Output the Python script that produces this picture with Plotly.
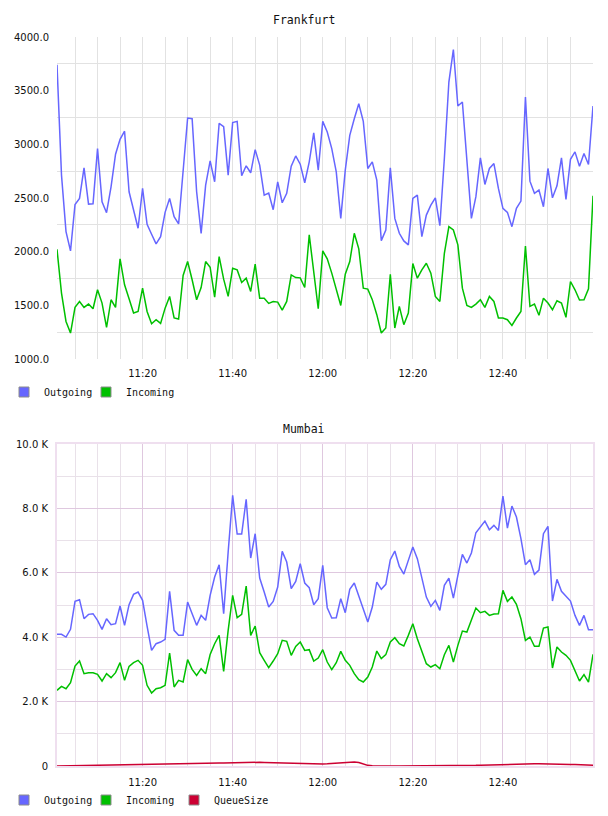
import pandas as pd
import plotly.graph_objects as go

times = pd.date_range("2024-01-01 11:01", periods=120, freq="min")
x_tick_times = ["2024-01-01 11:20", "2024-01-01 11:40", "2024-01-01 12:00",
                "2024-01-01 12:20", "2024-01-01 12:40"]

fra_out = [3741, 2713, 2187, 2007, 2440, 2496, 2781, 2443, 2446, 2960,
           2465, 2363, 2604, 2908, 3047, 3122, 2558, 2388, 2218, 2589,
           2255, 2162, 2072, 2140, 2366, 2496, 2326, 2258, 2744, 3245,
           3239, 2558, 2171, 2620, 2846, 2651, 3196, 3165, 2713, 3202,
           3214, 2707, 2800, 2735, 2951, 2806, 2527, 2546, 2391, 2651,
           2456, 2543, 2796, 2892, 2815, 2642, 2837, 3106, 2759, 3214,
           3115, 2960, 2744, 2310, 2759, 3084, 3239, 3378, 3214, 2775,
           2837, 2666, 2103, 2202, 2781, 2310, 2171, 2100, 2063, 2496,
           2527, 2140, 2341, 2434, 2502, 2242, 2868, 3580, 3883, 3357,
           3394, 2868, 2310, 2512, 2874, 2626, 2775, 2821, 2589, 2403,
           2366, 2233, 2403, 2471, 3440, 2657, 2543, 2574, 2419, 2775,
           2502, 2614, 2874, 2487, 2861, 2930, 2796, 2914, 2812, 3357]

fra_in = [2022, 1614, 1350, 1242, 1481, 1536, 1481, 1512, 1468, 1645,
          1521, 1295, 1552, 1481, 1933, 1691, 1561, 1428, 1443, 1660,
          1443, 1329, 1366, 1332, 1474, 1583, 1382, 1372, 1778, 1908,
          1738, 1552, 1666, 1908, 1855, 1577, 1954, 1744, 1583, 1846,
          1830, 1713, 1753, 1629, 1883, 1567, 1567, 1518, 1536, 1530,
          1456, 1536, 1784, 1759, 1756, 1666, 2156, 1815, 1468, 2007,
          1933, 1800, 1645, 1499, 1790, 1908, 2171, 2026, 1660, 1651,
          1552, 1413, 1242, 1289, 1790, 1289, 1490, 1320, 1428, 1889,
          1753, 1830, 1892, 1800, 1583, 1536, 1985, 2233, 2202, 2063,
          1660, 1499, 1481, 1512, 1552, 1481, 1583, 1536, 1382, 1382,
          1366, 1313, 1382, 1443, 2053, 1490, 1512, 1407, 1567, 1521,
          1459, 1543, 1521, 1388, 1722, 1645, 1549, 1552, 1654, 2521]

mum_out = [4088, 4088, 4005, 4244, 5113, 5165, 4575, 4709, 4730, 4523,
           4244, 4575, 4388, 4419, 4968, 4368, 5009, 5330, 5403, 5144,
           4347, 3591, 3798, 3850, 3933, 5423, 4212, 4057, 4057, 5092,
           4730, 4368, 4678, 4523, 5299, 5868, 6251, 4730, 6645, 8404,
           7204, 7204, 8280, 6458, 7214, 5837, 5403, 4937, 5113, 5558,
           6665, 6334, 5506, 5734, 6282, 5682, 5537, 5009, 5196, 6231,
           4916, 4595, 4606, 5196, 4761, 5486, 5682, 5299, 4885, 4471,
           4937, 5713, 5486, 5641, 6407, 6676, 6200, 5962, 6386, 6800,
           6438, 5837, 5247, 4958, 5144, 4833, 5610, 5837, 5216, 5920,
           6572, 6303, 6614, 7245, 7442, 7607, 7338, 7473, 7317, 8384,
           7390, 8073, 7731, 7059, 6251, 6407, 5951, 6086, 7214, 7442,
           5123, 5796, 5423, 5279, 5123, 4678, 4368, 4678, 4233, 4233]

mum_in = [2349, 2474, 2401, 2588, 3105, 3260, 2867, 2898, 2898, 2846,
          2639, 2867, 2743, 2898, 3209, 2660, 3095, 3209, 3281, 3126,
          2505, 2267, 2401, 2432, 2505, 3509, 2453, 2660, 2608, 3302,
          3002, 2815, 3022, 2867, 3467, 3798, 4057, 2939, 4212, 5299,
          4606, 4709, 5589, 4057, 4347, 3519, 3281, 3053, 3260, 3488,
          3902, 3871, 3436, 3716, 3850, 3591, 3612, 3260, 3353, 3612,
          3229, 2991, 3209, 3560, 3281, 3126, 2867, 2681, 2608, 2763,
          3074, 3571, 3333, 3457, 3850, 3985, 3798, 3726, 4057, 4419,
          3954, 3591, 3177, 3074, 3146, 3022, 3457, 3747, 3229, 3747,
          4192, 4161, 4523, 4906, 4761, 4802, 4678, 4720, 4730, 5454,
          5113, 5247, 5020, 4575, 3902, 4005, 3716, 3716, 4285, 4316,
          3043, 3695, 3540, 3436, 3281, 2970, 2639, 2836, 2608, 3467]

mum_queue = [0, 2, 5, 8, 10, 12, 15, 18, 20, 22,
             25, 28, 30, 33, 35, 38, 40, 42, 45, 48,
             50, 52, 55, 58, 60, 62, 65, 68, 70, 72,
             75, 78, 80, 82, 85, 88, 90, 95, 100, 105,
             110, 115, 118, 120, 118, 115, 110, 105, 100, 95,
             90, 85, 80, 75, 70, 65, 60, 60, 62, 65,
             70, 80, 90, 100, 110, 120, 125, 110, 60, 20,
             5, 0, 0, 0, 0, 0, 0, 0, 0, 0,
             0, 0, 0, 0, 0, 0, 0, 0, 0, 0,
             5, 10, 15, 20, 25, 30, 35, 38, 40, 42,
             45, 50, 55, 60, 62, 65, 68, 70, 70, 68,
             65, 62, 60, 55, 50, 45, 40, 35, 30, 25]

fra_ticks = [1000, 1500, 2000, 2500, 3000, 3500, 4000]
fra_minor = [1250, 1750, 2250, 2750, 3250, 3750]
mum_ticks = [0, 2000, 4000, 6000, 8000, 10000]
mum_ticktext = ["0", "2.0 K", "4.0 K", "6.0 K", "8.0 K", "10.0 K"]
mum_minor = [1000, 3000, 5000, 7000, 9000]

C_OUT = "#6666ff"
C_IN = "#00c000"
C_Q = "#cc0033"

fig = go.Figure()

def line(x, y, c, xa, ya):
    fig.add_trace(go.Scatter(x=x, y=y, mode="lines", line=dict(color=c, width=1.5),
                             showlegend=False, xaxis=xa, yaxis=ya, hoverinfo="skip"))

def leg(name, c, xa, ya, lg):
    fig.add_trace(go.Scatter(x=[None], y=[None], mode="markers", name=name,
                             marker=dict(symbol="square", size=10, color=c,
                                         line=dict(color="#8c8c8c", width=1)),
                             xaxis=xa, yaxis=ya, legend=lg, showlegend=True))

line(times, fra_out, C_OUT, "x", "y")
line(times, fra_in, C_IN, "x", "y")
line(times, mum_out, C_OUT, "x2", "y2")
line(times, mum_in, C_IN, "x2", "y2")
line(times, mum_queue, C_Q, "x2", "y2")
leg("Outgoing", C_OUT, "x", "y", "legend")
leg("Incoming", C_IN, "x", "y", "legend2")
leg("Outgoing", C_OUT, "x2", "y2", "legend3")
leg("Incoming", C_IN, "x2", "y2", "legend4")
leg("QueueSize", C_Q, "x2", "y2", "legend5")

W, H = 608, 816
xdom = [57 / W, 593 / W]
tick_font = dict(family="DejaVu Sans", size=10, color="#111")
rng = ["2024-01-01 11:01", "2024-01-01 13:00"]
MIN = 60 * 1000

def xaxis(major_col, minor_col, anchor, tlen, line=False):
    d = dict(domain=xdom, range=rng, type="date", anchor=anchor,
             tickformat="%H:%M", tickmode="array", tickvals=x_tick_times,
             showgrid=True, gridcolor=major_col, gridwidth=1,
             minor=dict(tick0="2024-01-01 11:00", dtick=5 * MIN, showgrid=True,
                        gridcolor=minor_col, gridwidth=1),
             zeroline=False, ticks="outside", ticklen=tlen, tickcolor="rgba(0,0,0,0)",
             tickfont=tick_font, fixedrange=True, automargin=False)
    if line:
        d.update(showline=True, mirror=True, linecolor="#efdfef", linewidth=2)
    else:
        d.update(showline=False)
    return d

leg_font = dict(family="DejaVu Sans Mono", size=10, color="#111")

def legend(px, py):
    return dict(orientation="h", x=px / W, xanchor="left", y=(H - py) / H, yanchor="middle",
                font=leg_font, itemwidth=30, tracegroupgap=0, bgcolor="rgba(0,0,0,0)")

fig.update_layout(
    width=W, height=H, margin=dict(l=0, r=0, t=0, b=0, autoexpand=False),
    paper_bgcolor="white", plot_bgcolor="white",
    xaxis=xaxis("#e2e2e2", "#e2e2e2", "y", 5),
    yaxis=dict(domain=[(H - 359) / H, (H - 37) / H], range=[1000, 4000], anchor="x",
               tickvals=fra_ticks, tickformat=".1f", showgrid=False,
               minor=dict(tickvals=fra_minor, showgrid=True, gridcolor="#e2e2e2", gridwidth=1),
               zeroline=False, showline=False, ticks="outside", ticklen=5,
               tickcolor="rgba(0,0,0,0)", tickfont=tick_font, fixedrange=True,
               automargin=False),
    xaxis2=xaxis("#dfc8df", "#e9e1e9", "y2", 6, line=True),
    yaxis2=dict(domain=[(H - 766) / H, (H - 444) / H], range=[0, 10000], anchor="x2",
                tickvals=mum_ticks, ticktext=mum_ticktext, showgrid=True,
                gridcolor="#dfc8df", gridwidth=1,
                minor=dict(tickvals=mum_minor, showgrid=True, gridcolor="#e9e1e9", gridwidth=1),
                zeroline=False, showline=True, mirror=True, linecolor="#efdfef", linewidth=2,
                ticks="outside", ticklen=5, tickcolor="rgba(0,0,0,0)",
                tickfont=tick_font, fixedrange=True, automargin=False),
    legend=legend(4, 392),
    legend2=legend(86, 392),
    legend3=legend(4, 800),
    legend4=legend(86, 800),
    legend5=legend(174, 800),
    annotations=[
        dict(text="Frankfurt", x=0.5, y=(H - 20) / H, xref="paper", yref="paper",
             xanchor="center", yanchor="middle", showarrow=False,
             font=dict(family="DejaVu Sans Mono", size=11.5, color="#111")),
        dict(text="Mumbai", x=0.5, y=(H - 429) / H, xref="paper", yref="paper",
             xanchor="center", yanchor="middle", showarrow=False,
             font=dict(family="DejaVu Sans Mono", size=11.5, color="#111")),
    ],
)

fig.write_html("out.html")
